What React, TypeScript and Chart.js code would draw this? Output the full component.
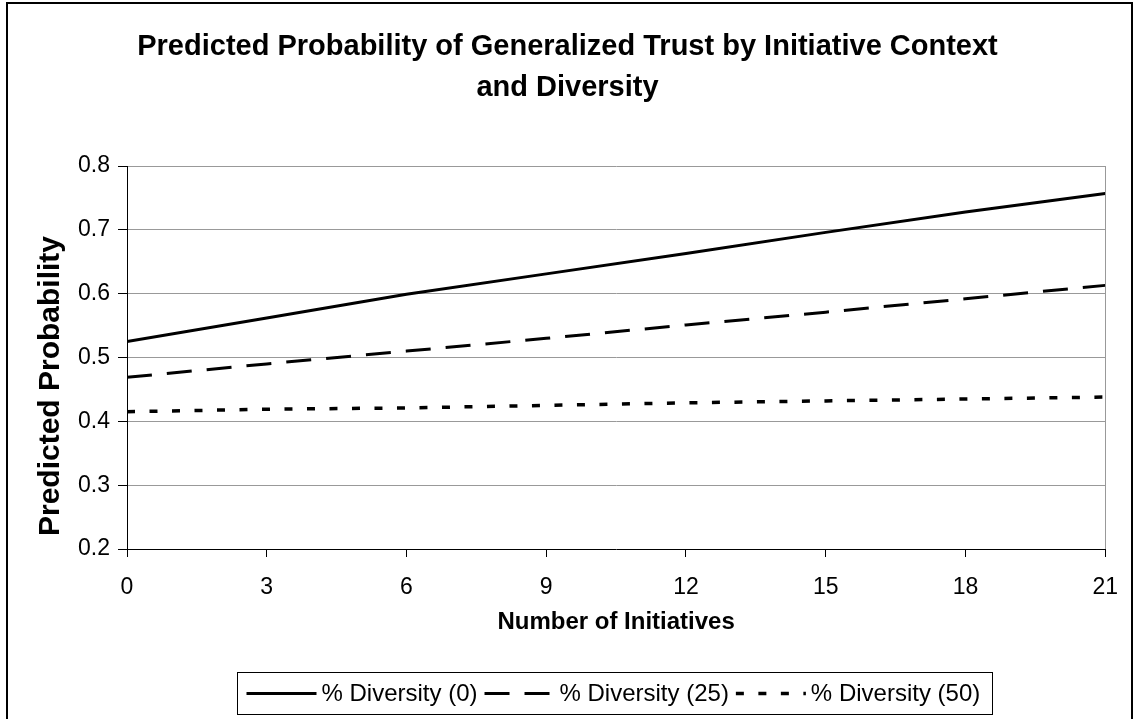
import React, { useEffect, useRef } from "react";
import { Chart, registerables } from "chart.js";

Chart.register(...registerables);

const FONT = "'Liberation Sans', Arial, Helvetica, sans-serif";

const initiatives = [0, 3, 6, 9, 12, 15, 18, 21];
const diversity0 = [0.525, 0.562, 0.599, 0.631, 0.663, 0.696, 0.728, 0.757];
const diversity25 = [0.469, 0.49, 0.51, 0.53, 0.551, 0.571, 0.592, 0.613];
const diversity50 = [0.415, 0.419, 0.421, 0.425, 0.429, 0.432, 0.435, 0.438];
const seriesLabels = ["% Diversity (0)", "% Diversity (25)", "% Diversity (50)"];
const titleLines = [
  "Predicted Probability of Generalized Trust by Initiative Context",
  "and Diversity",
];
const xAxisTitle = "Number of Initiatives";
const yAxisTitle = "Predicted Probability";
const xMin = 0;
const xMax = 21;
const xStep = 3;
const yMin = 0.2;
const yMax = 0.8;
const yStep = 0.1;

const toPoints = (ys: number[]) => initiatives.map((x, i) => ({ x, y: ys[i] }));

const framePlugin = {
  id: "frame",
  beforeDraw(chart: any) {
    const { ctx, width, height } = chart;
    ctx.save();
    ctx.fillStyle = "#ffffff";
    ctx.fillRect(0, 0, width, height);
    ctx.strokeStyle = "#000000";
    ctx.lineWidth = 2;
    ctx.beginPath();
    ctx.moveTo(7, height + 5);
    ctx.lineTo(7, 3);
    ctx.lineTo(width - 3, 3);
    ctx.lineTo(width - 3, height + 5);
    ctx.stroke();
    ctx.restore();
  },
};

const yTitlePlugin = {
  id: "yTitle",
  afterDraw(chart: any) {
    const { ctx } = chart;
    ctx.save();
    ctx.translate(51, 386);
    ctx.rotate(-Math.PI / 2);
    ctx.font = `bold 30px ${FONT}`;
    ctx.fillStyle = "#000";
    ctx.textAlign = "center";
    ctx.textBaseline = "middle";
    ctx.fillText(yAxisTitle, 0, 0);
    ctx.restore();
  },
};

const legendPlugin = {
  id: "boxLegend",
  afterDraw(chart: any) {
    const { ctx, chartArea } = chart;
    ctx.save();
    ctx.font = `24px ${FONT}`;
    const sample = 70;
    const gapST = 5;
    const gapTS = 7;
    const padL = 9;
    const padR = 12;
    const items = chart.data.datasets.map((ds: any) => ({
      label: ds.label,
      dash: ds.borderDash || [],
      lw: ds.borderWidth,
      w: ctx.measureText(ds.label).width,
    }));
    let total = padL + padR + gapTS * (items.length - 1);
    items.forEach((it: any) => (total += sample + gapST + it.w));
    const cx = (chartArea.left + chartArea.right) / 2 - 2;
    const left = Math.round(cx - total / 2) + 0.5;
    const top = chart.height - 46.5;
    const h = 42;
    ctx.strokeStyle = "#000";
    ctx.lineWidth = 1;
    ctx.strokeRect(left, top, Math.round(total), h);
    let x = left + padL;
    const cy = top + h / 2;
    ctx.fillStyle = "#000";
    ctx.textBaseline = "middle";
    ctx.textAlign = "left";
    items.forEach((it: any) => {
      ctx.setLineDash(it.dash);
      ctx.lineWidth = it.lw;
      ctx.beginPath();
      ctx.moveTo(x, cy);
      ctx.lineTo(x + sample, cy);
      ctx.stroke();
      ctx.setLineDash([]);
      x += sample + gapST;
      ctx.fillText(it.label, x, cy + 1);
      x += it.w + gapTS;
    });
    ctx.restore();
  },
};

export default function App() {
  const ref = useRef<HTMLCanvasElement | null>(null);

  useEffect(() => {
    if (!ref.current) return;
    const chart = new Chart(ref.current, {
      type: "line",
      data: {
        datasets: [
          {
            label: seriesLabels[0],
            data: toPoints(diversity0),
            borderColor: "#000",
            borderWidth: 3,
            borderDash: [],
            pointRadius: 0,
            tension: 0,
          },
          {
            label: seriesLabels[1],
            data: toPoints(diversity25),
            borderColor: "#000",
            borderWidth: 3,
            borderDash: [25, 15],
            pointRadius: 0,
            tension: 0,
          },
          {
            label: seriesLabels[2],
            data: toPoints(diversity50),
            borderColor: "#000",
            borderWidth: 3.5,
            borderDash: [8, 14.5],
            pointRadius: 0,
            tension: 0,
          },
        ],
      },
      options: {
        animation: false,
        responsive: false,
        devicePixelRatio: 1,
        layout: { padding: { left: 28, right: 28, top: 0, bottom: 0 } },
        plugins: {
          legend: { display: false },
          tooltip: { enabled: false },
          title: {
            display: true,
            text: titleLines,
            color: "#000",
            font: { family: FONT, size: 29, weight: "bold", lineHeight: 1.4 },
            padding: { top: 27, bottom: 57.8 },
          },
        },
        scales: {
          x: {
            type: "linear",
            min: xMin,
            max: xMax,
            afterFit: (scale: any) => {
              scale.height = 170;
            },
            ticks: {
              stepSize: xStep,
              color: "#000",
              font: { family: FONT, size: 23 },
              padding: 17,
              maxRotation: 0,
            },
            grid: {
              drawOnChartArea: true,
              color: (c: any) =>
                c.tick && Math.abs(c.tick.value - xMax) < 1e-6 ? "#999999" : "rgba(0,0,0,0)",
              tickColor: "#000",
              tickLength: 8,
              lineWidth: 1,
            },
            border: { color: "#000", width: 1 },
            title: {
              display: true,
              text: xAxisTitle,
              color: "#000",
              font: { family: FONT, size: 24, weight: "bold", lineHeight: 1.2 },
              padding: { top: 0, bottom: 82 },
            },
          },
          y: {
            min: yMin,
            max: yMax,
            afterFit: (scale: any) => {
              scale.width = 99;
            },
            ticks: {
              stepSize: yStep,
              color: "#000",
              font: { family: FONT, size: 23 },
              padding: 8,
              callback: (v: any) => Number(v).toFixed(1),
            },
            grid: {
              color: (c: any) =>
                c.tick && Math.abs(c.tick.value - yMin) < 1e-6 ? "rgba(0,0,0,0)" : "#999999",
              tickColor: "#000",
              tickLength: 9,
              lineWidth: 1,
            },
            border: { color: "#000", width: 1 },
          },
        },
      },
      plugins: [framePlugin, yTitlePlugin, legendPlugin],
    });
    return () => chart.destroy();
  }, []);

  return (
    <div style={{ position: "absolute", left: 0, top: 0, width: 1135, height: 719, background: "#fff" }}>
      <canvas ref={ref} width={1135} height={719} style={{ display: "block" }} />
    </div>
  );
}
